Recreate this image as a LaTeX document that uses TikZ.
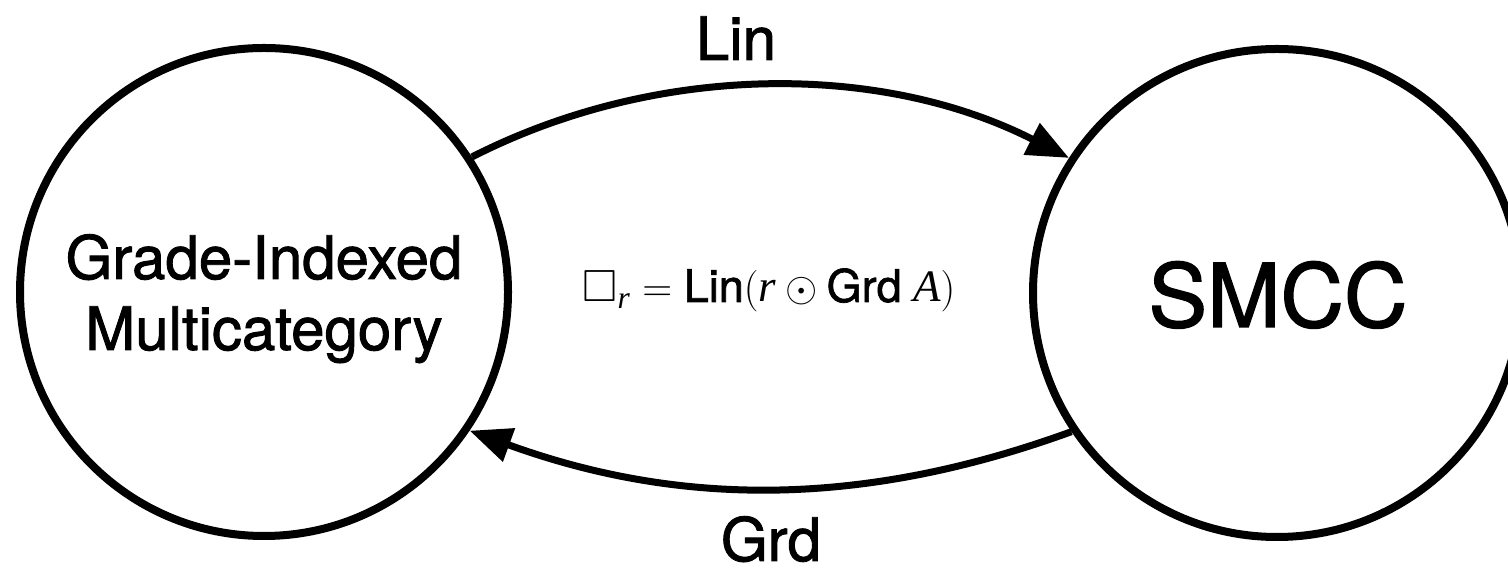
\documentclass[tikz,border=0pt]{standalone}
\usepackage{amsmath,amssymb}
\usepackage{fontspec}
\setmainfont{TeX Gyre Heros}[FakeBold=1.5]
\newfontfamily\tms{Liberation Serif}
\usetikzlibrary{arrows.meta}

\begin{document}
\begin{tikzpicture}[x=0.5pt,y=0.5pt,
  state/.style={circle, draw, line width=4pt, minimum size=244pt, inner sep=0pt},
  conn/.style={line width=3.5pt, -{Triangle[length=21pt,width=17pt]}},
  lbl/.style={anchor=base, inner sep=0pt},
  big/.style={font=\fontsize{30}{36}\selectfont}]
\useasboundingbox (0,0) rectangle (1508,572);
\clip (0,0) rectangle (1508,572);

% the two categories
\node[state] (gim) at (264,280) {};
\node[state] (smcc) at (1277,279) {};
\node[lbl, big] (gimA) at (264,293) {Grade-Indexed};
\node[lbl, big] (gimB) at (264,222) {Multicategory};
\node[lbl, font=\fontsize{44}{52}\selectfont] (smccT) at (1278,245) {SMCC};

% functors between them
\draw[conn] (gim.33) to[out=27,in=153,looseness=0.9] (smcc.147);
\draw[conn] (smcc.214) to[out=200,in=-20,looseness=0.95] (gim.-34);
\node[lbl, big] (lin) at (736,512) {Lin};
\node[lbl, big] (grd) at (771,11) {Grd};

% the induced modality
\node[lbl, font=\fontsize{22.5}{27}\selectfont] (box) at (769,270)
  {$\square_{\textit{\tms r}} = \text{Lin}(\textit{\tms r} \odot \text{Grd}\;\textit{\tms A})$};
\end{tikzpicture}
\end{document}
